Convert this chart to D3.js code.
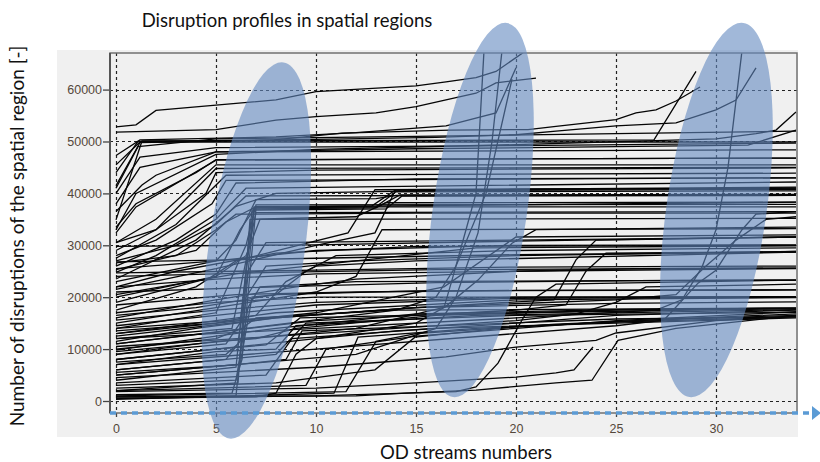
<!doctype html>
<html lang="en">
  <head>
    <meta charset="utf-8">
    <title>Disruption profiles in spatial regions</title>
    <script src="https://d3js.org/d3.v7.min.js"></script>
    <style>
      body { margin: 0; background: #fff; }
      text { font-family: Lato, "Open Sans", sans-serif; }
    </style>
  </head>
  <body>
    <svg width="820" height="462"></svg>

    <script>
      // tick values
      var xTicks = [0, 5, 10, 15, 20, 25, 30];
      var yTicks = [0, 10000, 20000, 30000, 40000, 50000, 60000];

      // profiles, as [OD stream, disruptions] breakpoints
      var upperProfiles = [
        [[0,52800],[1,53200],[2,56000],[5,57000],[8,58000],[10,59600],[15,60700],[16.5,61500],[18,62300],[19,63500],[20.5,67500]],
        [[0,51800],[5,52300],[8,54100],[10,54800],[13,55500],[15,56700],[16.5,58000],[18,59300],[19,61300],[21,62200]],
        [[0,47300],[1.2,50300],[8,50900],[12,51700],[16.5,53000],[19,55500],[20,64200]],
        [[0,44000],[1.1,50000],[10,50400],[16,50800],[20,51300],[22,52000],[25,53000],[28,53600],[30,56100],[31,58000],[32,64200]],
        [[0,41500],[1.2,49800],[7.9,50300],[11.3,51600],[16.7,52200],[20.6,52300],[22,52900],[25,54200],[26,55500],[27,56100],[28,57800],[29.2,60500]],
        [[0,34900],[1.3,50100],[15,50200],[26.9,50300],[29,63500]],
        [[0,33000],[1,40000],[5,47500],[10,48500],[20,49400],[30,50500],[32,51500],[33,52200],[34,55700]],
        [[0,38000],[1.2,45000],[5,48000],[15,48600],[25,49000],[31.6,49300],[34,52200]],
        [[0,45500],[1.2,49900],[34,49900]],
        [[0,40000],[1.2,47000],[5,48800],[20,49200],[34,49700]],
        [[0,41000],[1.1,49000],[5,50500],[15,51000],[25,51500],[34,52000]],
        [[0,36500],[1.3,41600],[2,43500],[5,48000],[34,48400]],
        [[0,32400],[1,37400],[5,46400],[15,46600],[34,46800]],
        [[0,33500],[1,38000],[4,44000],[5,46500],[34,46800]],
        [[0,30500],[2,35000],[5,45500],[34,45500]],
        [[0,30500],[2,33000],[4.5,40000],[5,44000],[10,44500],[34,44900]],
        [[0,29000],[2,33000],[5,44800],[20,44900],[34,45000]],
        [[0,27500],[3,34000],[5.5,43500],[34,43900]],
        [[0,26000],[3,31000],[5,36000],[6,42000],[15,42800],[34,43000]],
        [[0,28000],[2,31000],[4.8,38000],[5.5,42500],[34,43000]],
        [[0,24800],[2,28000],[5,35000],[6.5,41000],[34,42200]],
        [[0,23500],[4,31000],[6,37500],[8,40000],[20,40800],[34,41200]]
      ];

      var stepProfiles = [
        [[0,9000],[5.5,11000],[6.2,15000],[6.9,37400],[12.8,37600],[14,40700],[34,41000]],
        [[0,6000],[5.5,8000],[6.3,12000],[6.9,37000],[13,37200],[14.2,39700],[34,39800]],
        [[0,4000],[6,6500],[6.8,36800],[13.5,37000],[14.3,39500],[34,39600]],
        [[0,2000],[6.1,3500],[6.7,35000],[12,35500],[13.5,38200],[34,38300]],
        [[0,14000],[5,17000],[6.5,30000],[7,37800],[34,37900]],
        [[0,12000],[5.8,14000],[7,36300],[34,36500]],
        [[0,1200],[5.8,1500],[6.3,8000],[7,37200],[13,37400],[14,40300],[34,40500]],
        [[0,800],[6,1000],[6.5,20000],[7.5,26000],[12,27000],[20,28000],[34,28800]],
        [[0,19000],[5,24000],[6.5,28000],[7.2,35000],[34,35200]],
        [[0,17500],[4,22000],[6,27000],[11.6,32400],[12.95,40700],[34,41000]],
        [[0,21500],[5,25500],[10,30000],[12.95,32400],[13.95,40500],[34,40800]],
        [[0,15000],[5,18000],[10,21000],[12,24000],[13.3,33000],[34,33200]],
        [[0,26600],[3,28000],[5,33000],[6,36000],[15,36200],[34,36200]],
        [[0,25300],[4,29000],[5.5,34500],[7,37400],[34,37400]],
        [[0,27000],[3,30000],[5,34000],[6.5,39500],[34,39700]],
        [[0,23000],[5,27000],[6,31000],[7,38800],[13,39000],[14,39600],[34,39700]],
        [[0,20000],[5,24000],[6.2,33000],[7,37400],[14,37600],[34,38300]],
        [[0,7500],[5.5,9000],[6.1,11000],[6.6,25000],[7.5,30500],[20,31000],[34,31600]],
        [[0,3000],[6,4000],[6.6,18000],[7.2,22000],[12,23000],[34,23300]],
        [[0,5500],[6.2,7000],[6.8,20000],[8,20500],[15,21200],[34,21400]],
        [[0,10000],[5,12000],[6.3,14000],[7,16000],[14,17500],[34,17900]]
      ];

      var middleProfiles = [
        [[0,25500],[5,27000],[10,29000],[20,30000],[34,30100]],
        [[0,22000],[3,25000],[8,28500],[15,29800],[34,30000]],
        [[0,20500],[6,24500],[12,27000],[18,29500],[34,29900]],
        [[0,29800],[10,30100],[20,30800],[34,31600]],
        [[0,26800],[10,27500],[20,28200],[34,28700]],
        [[0,24000],[8,24800],[16,25300],[34,25600]],
        [[0,16000],[5,19500],[9,22000],[12,23500],[20,25000],[34,25500]],
        [[0,24700],[10,25200],[20,25800],[34,26000]],
        [[0,22000],[5,23500],[10,24500],[20,25000],[26,25500],[34,25600]],
        [[0,21000],[8,22000],[16,22800],[26,23200],[34,23300]],
        [[0,18500],[6,20500],[12,21000],[20,21300],[34,21400]],
        [[0,17000],[5,19000],[10,20000],[34,20000]],
        [[0,16500],[4,18000],[8,20500],[9.5,25000],[11,28000],[20,29000],[34,29500]],
        [[0,13500],[5,15000],[7,16500],[8.5,23000],[10,26000],[15,27000],[34,28700]]
      ];

      var lowerProfiles = [
        [[0,15600],[5,17500],[10,19000],[20,20000],[34,20100]],
        [[0,14500],[5,16500],[10,18500],[20,19800],[34,20000]],
        [[0,13000],[5,15500],[8,17000],[20,19500],[34,19900]],
        [[0,11500],[4,14000],[8,16000],[15,18000],[25,18800],[34,19100]],
        [[0,9800],[5,12500],[8,14000],[15,16800],[25,17600],[34,17900]],
        [[0,9000],[5,11500],[7,12000],[9,14000],[16,16500],[25,17500],[34,17900]],
        [[0,8000],[5,10000],[7.5,10800],[9.2,16000],[20,17000],[34,17800]],
        [[0,7000],[5,9500],[8,10000],[9,14500],[18,16500],[34,17600]],
        [[0,6000],[6,8200],[8,9000],[9.5,15000],[20,16500],[34,17100]],
        [[0,5000],[6,7000],[8.5,8000],[9.3,13500],[25,15800],[34,16200]],
        [[0,3500],[7.5,5000],[8.8,12000],[16,14000],[25,15000],[34,16000]],
        [[0,500],[7,800],[8,1500],[9,9000],[10,12000],[14,13500],[20,15000],[25,16500],[34,17500]],
        [[0,2000],[9.5,3000],[10.5,10000],[15,12500],[20,14000],[25,15500],[34,17200]],
        [[0,2500],[8,3500],[12.95,6000],[14.95,12300],[20,14300],[26,15500],[34,16500]],
        [[0,300],[10.9,1500],[12.1,12300],[18,14000],[25,15200],[34,16200]],
        [[0,1000],[11.5,1800],[13,11500],[15,13000],[22,14800],[34,16800]],
        [[0,4500],[10,6500],[15,8000],[16.5,8500],[20,10400],[24,11700],[25,13100],[30,15500],[34,16400]]
      ];

      var lateProfiles = [
        [[0,800],[12,1000],[14.5,1500],[18,2100],[22,3500],[23.8,4000],[25.1,11700],[28,14000],[34,16500]],
        [[0,1800],[10,2500],[15,3500],[20,4600],[22,5400],[22.9,6000],[23.85,10400]],
        [[0,12500],[8,16000],[15,18000],[21.9,19500],[23,27200],[24,31000],[34,31600]],
        [[0,11000],[10,15500],[20,17500],[22.5,18500],[23.5,25000],[24.5,28500],[34,28800]],
        [[0,10500],[10,13000],[20,15500],[23,16800],[25,19000],[26.5,22000],[34,22500]],
        [[0,8000],[10,12000],[15,15000],[16.4,18000],[16.8,23300],[17.5,33000],[18,40000],[18.4,67500]],
        [[0,5000],[12,9000],[16,14000],[17,20000],[18.1,32400],[18.8,50000],[19.3,67500]],
        [[0,11000],[14,17500],[16,20000],[17,26000],[18.5,40000],[19.8,62000]],
        [[0,500],[10,1000],[17,1800],[18,2700],[19.1,7300],[20.3,15600],[21,20000],[22,22500],[34,23300]],
        [[0,13000],[10,17000],[16.4,22000],[20,31600],[34,32000]],
        [[0,9500],[12,14000],[16.45,18100],[18.1,23300],[19.8,30400],[21,33000],[34,33500]],
        [[0,12000],[10,14000],[20,16000],[27,17500],[28.3,19500],[29.3,25800],[30,33000],[30.6,45000],[31.3,67500]],
        [[0,7000],[10,10000],[20,13000],[25,14500],[27.4,15600],[29.1,22700],[30,25200],[31.3,33000],[32,36000],[34,36500]],
        [[0,14000],[15,18000],[25,19500],[28,20500],[29.5,26000],[31,31000],[32.5,35000],[34,35500]]
      ];

      // highlighted regions: centre as [stream, disruptions]
      var regionCentres = [[7.02, 29000], [18.2, 36800], [30.02, 36800]];

      var svg = d3.select('svg');
      var plotLeft = 110, plotRight = 797, plotTop = 53, plotBottom = 413;

      var x = d3.scaleLinear().domain([-0.3, 34.05]).range([plotLeft, plotRight]);
      var y = d3.scaleLinear().domain([-2312, 67050]).range([plotBottom, plotTop]);

      // grey panel
      svg.append('rect')
        .attr('x', 57).attr('y', 50)
        .attr('width', plotRight - 57 + 1).attr('height', 437 - 50)
        .attr('fill', '#f0f0f0');

      svg.append('clipPath').attr('id', 'plot')
        .append('rect')
        .attr('x', plotLeft).attr('y', plotTop)
        .attr('width', plotRight - plotLeft).attr('height', plotBottom - plotTop);

      // dotted grid
      var grid = svg.append('g')
        .attr('stroke', '#222')
        .attr('stroke-width', 1.2)
        .attr('stroke-dasharray', '3,3');
      grid.selectAll('.gx').data(xTicks).enter().append('line')
        .attr('x1', function(d){ return Math.round(x(d)) + 0.5; })
        .attr('x2', function(d){ return Math.round(x(d)) + 0.5; })
        .attr('y1', plotTop).attr('y2', plotBottom);
      grid.selectAll('.gy').data(yTicks).enter().append('line')
        .attr('y1', function(d){ return Math.round(y(d)) + 0.5; })
        .attr('y2', function(d){ return Math.round(y(d)) + 0.5; })
        .attr('x1', plotLeft).attr('x2', plotRight);

      var line = d3.line()
        .x(function(d){ return x(d[0]); })
        .y(function(d){ return y(d[1]); });

      var allProfiles = [].concat(upperProfiles, stepProfiles, middleProfiles, lowerProfiles, lateProfiles);

      svg.append('g')
        .attr('clip-path', 'url(#plot)')
        .selectAll('path')
        .data(allProfiles)
        .enter().append('path')
        .attr('d', line)
        .attr('fill', 'none')
        .attr('stroke', '#050505')
        .attr('stroke-width', 1.3);

      // axes
      var yAxis = svg.append('g')
        .attr('transform', 'translate(' + plotLeft + ',0)')
        .call(d3.axisLeft(y).tickValues(yTicks).tickSize(7).tickPadding(1).tickFormat(d3.format('d')));
      var xAxis = svg.append('g')
        .attr('transform', 'translate(0,' + plotBottom + ')')
        .call(d3.axisBottom(x).tickValues(xTicks).tickSize(4).tickPadding(7));
      [yAxis, xAxis].forEach(function(a){
        a.select('.domain').remove();
        a.selectAll('line').attr('stroke', '#444').attr('stroke-width', 1.3);
        a.selectAll('text')
          .attr('fill', '#54473a')
          .style('font-family', '"Liberation Sans", Arial, sans-serif')
          .style('font-size', '12.5px');
      });

      // frame
      svg.append('rect')
        .attr('x', plotLeft).attr('y', plotTop)
        .attr('width', plotRight - plotLeft).attr('height', plotBottom - plotTop)
        .attr('fill', 'none').attr('stroke', '#707070').attr('stroke-width', 1.5);
      svg.append('line')
        .attr('x1', plotLeft).attr('x2', plotLeft).attr('y1', plotTop).attr('y2', plotBottom)
        .attr('stroke', '#555').attr('stroke-width', 2);

      // blue highlight ellipses
      var ellipseSizes = [[48, 190], [47, 189], [50, 189]];
      svg.append('g').selectAll('ellipse')
        .data(regionCentres)
        .enter().append('ellipse')
        .attr('rx', function(d, i){ return ellipseSizes[i][0]; })
        .attr('ry', function(d, i){ return ellipseSizes[i][1]; })
        .attr('transform', function(d){ return 'translate(' + x(d[0]) + ',' + y(d[1]) + ') rotate(8.2)'; })
        .attr('fill', 'rgb(98,137,192)')
        .attr('fill-opacity', 0.6);

      // blue dotted arrow along the x axis
      svg.append('line')
        .attr('x1', plotLeft).attr('x2', 812)
        .attr('y1', plotBottom).attr('y2', plotBottom)
        .attr('stroke', '#5b9bd5').attr('stroke-width', 3.5)
        .attr('stroke-dasharray', '6,5');
      svg.append('path')
        .attr('d', 'M812,406 L821,413 L812,420 Z')
        .attr('fill', '#5b9bd5');

      // titles
      svg.append('text')
        .attr('x', 287).attr('y', 27)
        .attr('text-anchor', 'middle')
        .style('font-size', '18.5px').attr('fill', '#111')
        .text('Disruption profiles in spatial regions');
      svg.append('text')
        .attr('x', 466).attr('y', 459)
        .attr('text-anchor', 'middle')
        .style('font-size', '18.5px').attr('fill', '#111')
        .text('OD streams numbers');
      svg.append('text')
        .attr('transform', 'translate(24,236) rotate(-90)')
        .attr('text-anchor', 'middle')
        .style('font-size', '19px').attr('fill', '#111')
        .text('Number of disruptions of the spatial region [-]');
    </script>
  </body>
</html>
